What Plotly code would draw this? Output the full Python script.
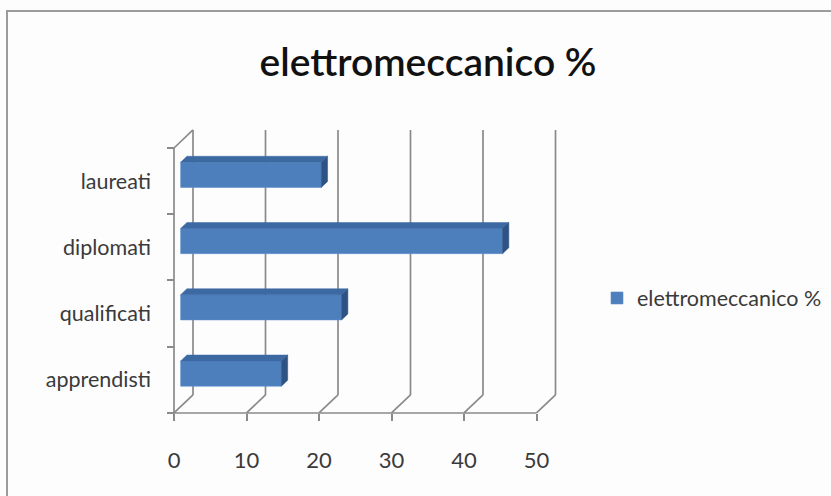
import plotly.graph_objects as go

# Data
categories = ["apprendisti", "qualificati", "diplomati", "laureati"]
values = [13.9, 22.2, 44.4, 19.4]
x_ticks = [0, 10, 20, 30, 40, 50]
series_name = "elettromeccanico %"
title_text = "elettromeccanico %"

# Oblique projection of the 3-D box (data units per full depth)
DX, DY = 2.62, 0.272
F1, F2 = 0.35, 0.68      # front / back of the bar slab, as fraction of depth
HALF = 0.19              # half bar thickness in category units

# Axis ranges chosen so the whole canvas is the plotting area
X_RANGE = [-24.0, 90.62]
Y_RANGE = [-1.753, 5.734]
W, H = 831, 496

FRONT = "#4d7fbd"
TOP = "#3d69a3"
SIDE = "#2d5283"
GRID = "#8a8a8a"
TEXT = "#3a3a3a"
FONT = "Lato, 'Open Sans', sans-serif"

y_lo, y_hi = -0.5, len(categories) - 0.5
x_max = x_ticks[-1]

fig = go.Figure()

# Front faces of the bars
fig.add_trace(go.Bar(
    orientation="h",
    y=[i + DY * F1 for i in range(len(categories))],
    x=values,
    base=DX * F1,
    width=2 * HALF,
    marker=dict(color=FRONT, line=dict(color="#5b8dca", width=0.6)),
    name=series_name,
    showlegend=True,
    hoverinfo="skip",
))

# Top and side faces
for i, v in enumerate(values):
    b0, b1 = DX * F1, DX * F2
    yb0, yb1 = i - HALF + DY * F1, i + HALF + DY * F1
    top_x = [b0, v + b0, v + b1, b1, b0]
    top_y = [yb1, yb1, yb1 + DY * (F2 - F1), yb1 + DY * (F2 - F1), yb1]
    fig.add_trace(go.Scatter(x=top_x, y=top_y, fill="toself", mode="lines",
                             line=dict(color=TOP, width=0.5), fillcolor=TOP,
                             showlegend=False, hoverinfo="skip"))
    side_x = [v + b0, v + b1, v + b1, v + b0, v + b0]
    side_y = [yb0, yb0 + DY * (F2 - F1), yb1 + DY * (F2 - F1), yb1, yb0]
    fig.add_trace(go.Scatter(x=side_x, y=side_y, fill="toself", mode="lines",
                             line=dict(color=SIDE, width=0.5), fillcolor=SIDE,
                             showlegend=False, hoverinfo="skip"))

# Box frame: back-wall gridlines, floor diagonals, left wall and front axis
shapes = []
line = dict(color=GRID, width=1.7)
for v in x_ticks:
    shapes.append(dict(type="line", xref="x", yref="y", layer="below",
                       x0=v, y0=y_lo, x1=v + DX, y1=y_lo + DY, line=line))
    shapes.append(dict(type="line", xref="x", yref="y", layer="below",
                       x0=v + DX, y0=y_lo + DY, x1=v + DX, y1=y_hi + DY, line=line))
shapes.append(dict(type="line", xref="x", yref="y", layer="below",
                   x0=0, y0=y_lo, x1=0, y1=y_hi, line=line))
shapes.append(dict(type="line", xref="x", yref="y", layer="below",
                   x0=0, y0=y_hi, x1=DX, y1=y_hi + DY, line=line))
shapes.append(dict(type="line", xref="x", yref="y", layer="below",
                   x0=0, y0=y_lo, x1=x_max, y1=y_lo, line=line))
# Chart border
shapes.append(dict(type="rect", xref="paper", yref="paper", layer="below",
                   x0=7 / W, y0=-0.02, x1=1.02, y1=1 - 11 / H,
                   line=dict(color="#9c9c9c", width=2)))

fig.update_layout(
    width=W, height=H,
    margin=dict(l=0, r=0, t=0, b=0),
    paper_bgcolor="#fdfdfd",
    plot_bgcolor="rgba(0,0,0,0)",
    shapes=shapes,
    title=dict(text=title_text, x=428 / W, xanchor="center",
               y=1 - 62 / H, yanchor="middle",
               font=dict(family=FONT, size=39, color="#111111", weight=600)),
    legend=dict(x=597 / W, y=1 - 298 / H, xanchor="left", yanchor="middle",
                font=dict(family=FONT, size=21.5, color=TEXT),
                bgcolor="rgba(0,0,0,0)"),
    xaxis=dict(range=X_RANGE, showgrid=False, zeroline=False, showline=False,
               tickvals=x_ticks, ticktext=[str(t) for t in x_ticks],
               ticks="outside", ticklen=7, tickwidth=1.7, tickcolor=GRID,
               anchor="free", position=(H - 413) / H,
               ticklabelstandoff=21,
               tickfont=dict(family=FONT, size=22, color=TEXT),
               fixedrange=True),
    yaxis=dict(range=Y_RANGE, showgrid=False, zeroline=False, showline=False,
               tickvals=list(range(len(categories))), ticktext=categories,
               ticks="", anchor="free", position=174 / W,
               ticklabelstandoff=23,
               tickfont=dict(family=FONT, size=21.5, color=TEXT),
               fixedrange=True),
    yaxis2=dict(range=Y_RANGE, overlaying="y", showgrid=False, zeroline=False,
                showline=False, showticklabels=False,
                tickvals=[k - 0.5 for k in range(len(categories) + 1)],
                ticks="outside", ticklen=7, tickwidth=1.7, tickcolor=GRID,
                anchor="free", position=174 / W, fixedrange=True),
)

# Empty trace so the tick-only overlay axis is rendered
fig.add_trace(go.Scatter(x=[None], y=[None], yaxis="y2", showlegend=False,
                         hoverinfo="skip"))

fig.write_html("out.html")
